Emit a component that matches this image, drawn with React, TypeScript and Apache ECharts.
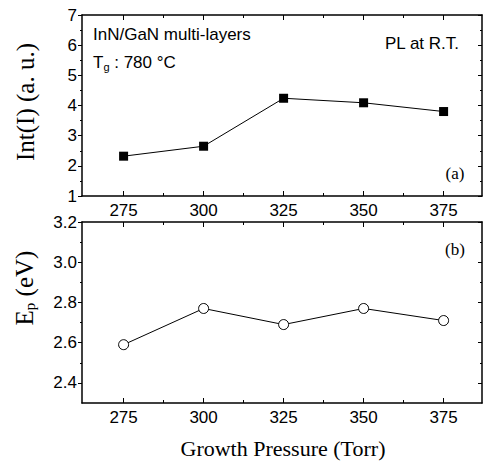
import React, { useEffect, useRef } from "react";
import * as echarts from "echarts";

// Growth pressure (Torr) and the two measured quantities
const pressure = [275, 300, 325, 350, 375];
const intensity = [2.32, 2.65, 4.24, 4.09, 3.8];
const peakEnergy = [2.59, 2.77, 2.69, 2.77, 2.71];

// Tick positions
const xTicks = [275, 300, 325, 350, 375];
const xMinorTicks = [287.5, 312.5, 337.5, 362.5];
const intTicks = [1, 2, 3, 4, 5, 6, 7];
const intMinorTicks = [1.5, 2.5, 3.5, 4.5, 5.5, 6.5];
const epTicks = [2.4, 2.6, 2.8, 3.0, 3.2];
const epMinorTicks = [2.5, 2.7, 2.9, 3.1];

const SANS = 'Arial, "Liberation Sans", sans-serif';
const SERIF = '"Times New Roman", "Liberation Serif", serif';
const INK = "#000";

const X_MIN = 262;
const X_MAX = 387;

function xAxesFor(gridIndex: number) {
  const base = {
    type: "value",
    gridIndex,
    min: X_MIN,
    max: X_MAX,
    splitLine: { show: false },
  };
  const line = { show: true, lineStyle: { color: INK, width: 1.5 } };
  return [
    {
      ...base,
      position: "bottom",
      axisLine: line,
      axisTick: { show: true, inside: true, length: 5, customValues: xTicks, lineStyle: { color: INK, width: 1 } },
      axisLabel: {
        show: true,
        customValues: xTicks,
        color: INK,
        fontFamily: SANS,
        fontSize: 17,
        margin: 6,
      },
    },
    {
      ...base,
      position: "bottom",
      axisLine: { show: false },
      axisTick: { show: true, inside: true, length: 3, customValues: xMinorTicks, lineStyle: { color: INK, width: 1 } },
      axisLabel: { show: false },
    },
    {
      ...base,
      position: "top",
      axisLine: line,
      axisTick: { show: true, inside: true, length: 5, customValues: xTicks, lineStyle: { color: INK, width: 1 } },
      axisLabel: { show: false },
    },
    {
      ...base,
      position: "top",
      axisLine: { show: false },
      axisTick: { show: true, inside: true, length: 3, customValues: xMinorTicks, lineStyle: { color: INK, width: 1 } },
      axisLabel: { show: false },
    },
  ];
}

function yAxesFor(
  gridIndex: number,
  min: number,
  max: number,
  major: number[],
  minor: number[],
  digits: number
) {
  const base = {
    type: "value",
    gridIndex,
    min,
    max,
    splitLine: { show: false },
  };
  const line = { show: true, lineStyle: { color: INK, width: 1.5 } };
  return [
    {
      ...base,
      position: "left",
      axisLine: line,
      axisTick: { show: true, inside: false, length: 4, customValues: major, lineStyle: { color: INK, width: 1 } },
      axisLabel: {
        show: true,
        customValues: major,
        formatter: (v: number) => v.toFixed(digits),
        color: INK,
        fontFamily: SANS,
        fontSize: 17,
        margin: 5,
      },
    },
    {
      ...base,
      position: "left",
      axisLine: { show: false },
      axisTick: { show: true, inside: false, length: 2, customValues: minor, lineStyle: { color: INK, width: 1 } },
      axisLabel: { show: false },
    },
    {
      ...base,
      position: "right",
      axisLine: line,
      axisTick: { show: true, inside: true, length: 4, customValues: major, lineStyle: { color: INK, width: 1 } },
      axisLabel: { show: false },
    },
    {
      ...base,
      position: "right",
      axisLine: { show: false },
      axisTick: { show: true, inside: true, length: 2, customValues: minor, lineStyle: { color: INK, width: 1 } },
      axisLabel: { show: false },
    },
  ];
}

export default function App() {
  const ref = useRef<HTMLDivElement>(null);

  useEffect(() => {
    if (!ref.current) return;
    const chart = echarts.init(ref.current, null, { renderer: "svg" });

    chart.setOption({
      animation: false,
      backgroundColor: "#fff",
      grid: [
        { left: 82, right: 1, top: 15, height: 181 },
        { left: 82, right: 1, top: 222, height: 181 },
      ],
      xAxis: [...xAxesFor(0), ...xAxesFor(1)],
      yAxis: [
        ...yAxesFor(0, 1, 7, intTicks, intMinorTicks, 0),
        ...yAxesFor(1, 2.3, 3.2, epTicks, epMinorTicks, 1),
      ],
      series: [
        {
          name: "Int(I)",
          type: "line",
          xAxisIndex: 0,
          yAxisIndex: 0,
          data: pressure.map((p, i) => [p, intensity[i]]),
          symbol: "rect",
          symbolSize: 9,
          itemStyle: { color: INK },
          lineStyle: { color: INK, width: 1 },
        },
        {
          name: "Ep",
          type: "line",
          xAxisIndex: 4,
          yAxisIndex: 4,
          data: pressure.map((p, i) => [p, peakEnergy[i]]),
          symbol: "circle",
          symbolSize: 10,
          itemStyle: { color: "#fff", borderColor: INK, borderWidth: 1 },
          lineStyle: { color: INK, width: 1 },
        },
      ],
      graphic: [
        {
          type: "text",
          x: 25,
          y: 102,
          rotation: Math.PI / 2,
          style: {
            text: "Int(I) (a. u.)",
            font: `25px ${SERIF}`,
            fill: INK,
            align: "center",
            verticalAlign: "middle",
          },
        },
        {
          type: "text",
          x: 24,
          y: 288,
          rotation: Math.PI / 2,
          style: {
            text: "{m|E}{s|p}{m| (eV)}",
            fill: INK,
            align: "center",
            verticalAlign: "middle",
            rich: {
              m: { fontFamily: SERIF, fontSize: 25, fill: INK },
              s: { fontFamily: SERIF, fontSize: 15, fill: INK, padding: [12, 0, 0, 0] },
            },
          },
        },
        {
          type: "text",
          x: 283,
          y: 448,
          style: {
            text: "Growth Pressure (Torr)",
            font: `22px ${SERIF}`,
            fill: INK,
            align: "center",
            verticalAlign: "middle",
          },
        },
        {
          type: "text",
          x: 93,
          y: 34,
          style: {
            text: "InN/GaN multi-layers",
            font: `17px ${SANS}`,
            fill: INK,
            align: "left",
            verticalAlign: "middle",
          },
        },
        {
          type: "text",
          x: 93,
          y: 62,
          style: {
            text: "{m|T}{s|g}{m| : 780 °C}",
            fill: INK,
            align: "left",
            verticalAlign: "middle",
            rich: {
              m: { fontFamily: SANS, fontSize: 17, fill: INK },
              s: { fontFamily: SANS, fontSize: 11, fill: INK, padding: [9, 0, 0, 0] },
            },
          },
        },
        {
          type: "text",
          x: 385,
          y: 43,
          style: {
            text: "PL at R.T.",
            font: `17px ${SANS}`,
            fill: INK,
            align: "left",
            verticalAlign: "middle",
          },
        },
        {
          type: "text",
          x: 455,
          y: 173,
          style: {
            text: "(a)",
            font: `17px ${SERIF}`,
            fill: INK,
            align: "center",
            verticalAlign: "middle",
          },
        },
        {
          type: "text",
          x: 455,
          y: 249,
          style: {
            text: "(b)",
            font: `17px ${SERIF}`,
            fill: INK,
            align: "center",
            verticalAlign: "middle",
          },
        },
      ],
    });

    return () => chart.dispose();
  }, []);

  return (
    <div
      ref={ref}
      style={{ position: "fixed", left: 0, top: 0, width: 483, height: 463, background: "#fff" }}
    />
  );
}
